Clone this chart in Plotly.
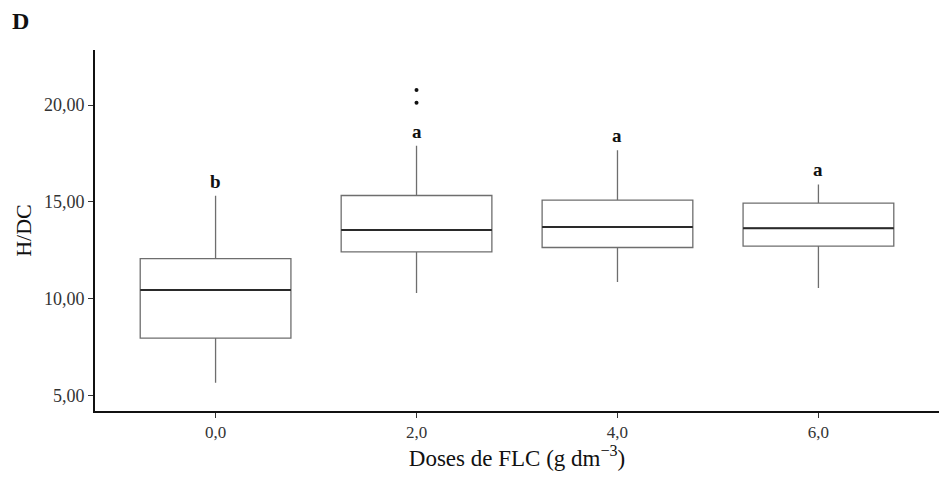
import plotly.graph_objects as go

categories = ["0,0", "2,0", "4,0", "6,0"]
lower_whisker = [5.65, 10.29, 10.86, 10.55]
q1 = [7.96, 12.41, 12.64, 12.71]
median = [10.44, 13.55, 13.70, 13.64]
q3 = [12.07, 15.33, 15.09, 14.93]
upper_whisker = [15.31, 17.90, 17.67, 15.90]
letters = ["b", "a", "a", "a"]
outlier_cat = [1, 1]
outlier_val = [20.78, 20.12]
ytick_vals = [5, 10, 15, 20]
ytick_text = ["5,00", "10,00", "15,00", "20,00"]

pos = list(range(len(categories)))
box_w = 0.75
serif = "Liberation Serif, Times New Roman, serif"

fig = go.Figure()
fig.add_trace(go.Box(
    x=pos, q1=q1, median=median, q3=q3,
    lowerfence=lower_whisker, upperfence=upper_whisker,
    width=box_w, whiskerwidth=0,
    fillcolor="rgba(255,255,255,0)",
    line=dict(color="#6e6e6e", width=1.3),
    boxpoints=False, showlegend=False, hoverinfo="skip",
))
# darker median lines
for i, m in zip(pos, median):
    fig.add_trace(go.Scatter(
        x=[i - box_w / 2, i + box_w / 2], y=[m, m], mode="lines",
        line=dict(color="#2a2a2a", width=2), showlegend=False, hoverinfo="skip",
    ))
fig.add_trace(go.Scatter(
    x=outlier_cat, y=outlier_val, mode="markers",
    marker=dict(color="#111", size=4), showlegend=False, hoverinfo="skip",
))
for i, (u, t) in enumerate(zip(upper_whisker, letters)):
    fig.add_annotation(x=i, y=u, text="<b>" + t + "</b>", showarrow=False,
                       yanchor="bottom", yshift=2,
                       font=dict(family=serif, size=19, color="#111111"))

fig.add_annotation(
    xref="paper", yref="paper", x=-0.0877, y=1.080,
    xanchor="center", yanchor="middle", text="<b>D</b>", showarrow=False,
    font=dict(family=serif, size=24, color="#111111"),
)

fig.update_layout(
    width=939, height=481,
    margin=dict(l=95, r=0, t=50, b=70),
    plot_bgcolor="white", paper_bgcolor="white",
    font=dict(family=serif, color="#222"),
)
fig.update_xaxes(
    range=[-0.6, 3.6], tickvals=pos, ticktext=categories,
    showline=True, linecolor="#111", linewidth=2,
    ticks="outside", ticklen=5, tickcolor="#333", tickwidth=1.3,
    showgrid=False, zeroline=False,
    tickfont=dict(family=serif, size=17, color="#333"),
    title=dict(text="Doses de FLC (g dm<sup>−3</sup>)", standoff=8,
               font=dict(family=serif, size=23, color="#111")),
)
fig.update_yaxes(
    range=[4.19, 22.85], tickvals=ytick_vals, ticktext=ytick_text,
    showline=True, linecolor="#111", linewidth=2,
    ticks="outside", ticklen=5, tickcolor="#333", tickwidth=1.3,
    showgrid=False, zeroline=False,
    tickfont=dict(family=serif, size=18, color="#333"),
    title=dict(text="H/DC", standoff=6,
               font=dict(family=serif, size=22, color="#111")),
)
fig.write_html("out.html")
